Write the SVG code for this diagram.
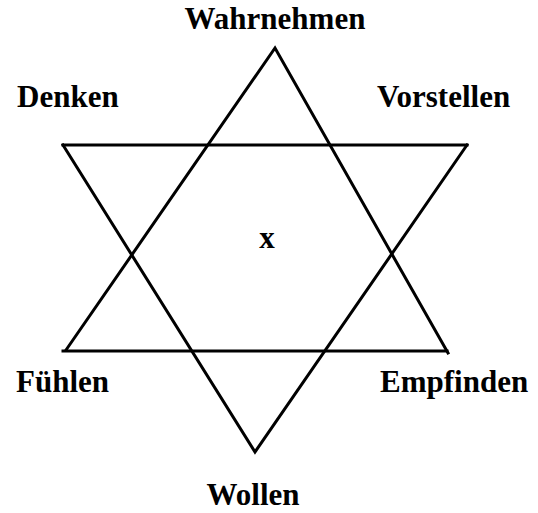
<svg xmlns="http://www.w3.org/2000/svg" width="538" height="513" viewBox="0 0 538 513">
<style>
.lbl{font-family:"Liberation Serif","Times New Roman",serif;font-weight:bold;font-size:31px;fill:#000}
.ln{stroke:#000;stroke-width:3;fill:none;stroke-linecap:square}
</style>
<rect width="538" height="513" fill="#fff"/>
<g id="connectors">
<path class="ln" d="M66,350 L275,48 L448,353"/>
<path class="ln" d="M63,351 L447,351"/>
<path class="ln" d="M63,145 L467,145"/>
<path class="ln" d="M63,145 L255,452 L467,145"/>
</g>
<g id="wahrnehmen"><text class="lbl" x="275" y="29" text-anchor="middle">Wahrnehmen</text></g>
<g id="denken"><text class="lbl" x="17" y="107">Denken</text></g>
<g id="vorstellen"><text class="lbl" x="377" y="107">Vorstellen</text></g>
<g id="x"><text class="lbl" x="267" y="248" text-anchor="middle">x</text></g>
<g id="fuehlen"><text class="lbl" x="16" y="392">Fühlen</text></g>
<g id="empfinden"><text class="lbl" x="380" y="392">Empfinden</text></g>
<g id="wollen"><text class="lbl" x="253" y="505" text-anchor="middle">Wollen</text></g>
</svg>
